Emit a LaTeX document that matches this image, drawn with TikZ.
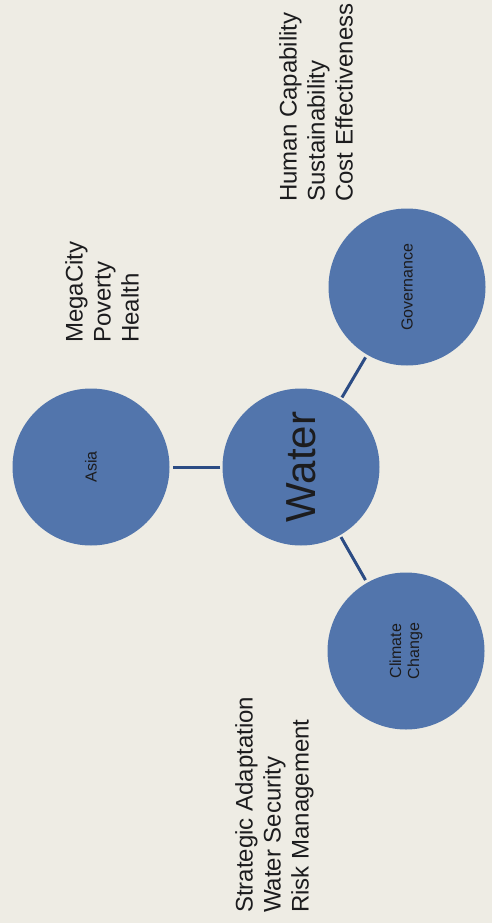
\documentclass[tikz,border=0pt]{standalone}
\usepackage{fontspec}
\setmainfont{Liberation Sans}
\definecolor{paper}{RGB}{238,236,228}
\definecolor{bubble}{RGB}{82,117,172}
\definecolor{link}{RGB}{44,76,132}
\definecolor{ink}{RGB}{28,28,30}
\tikzset{
  bubble/.style={circle,fill=bubble,minimum size=157pt,inner sep=0pt,rotate=90,
    text=ink,align=center,font=\fontsize{16}{18}\selectfont},
  note/.style={rotate=90,anchor=north west,inner sep=0pt,align=left,
    text=ink,font=\fontsize{24}{28}\selectfont},
  link/.style={draw=link,line width=3pt,shorten <=2pt,shorten >=3pt}
}
\begin{document}
\begin{tikzpicture}[x=1pt,y=-1pt]
\fill[paper] (0,0) rectangle (492,923);
\useasboundingbox (0,0) rectangle (492,923);
\node[bubble] (water) at (301,467) {\fontsize{42}{46}\selectfont Water};
\node[bubble] (asia) at (91,467) {Asia};
\node[bubble] (gov) at (407,287) {Governance};
\node[bubble] (climate) at (406,651) {Climate\\Change};
\foreach \n in {asia,gov,climate} {
	\draw[link] (water) -- (\n);
}
\node[note] (asianotes) at (65,343) {MegaCity\\Poverty\\Health};
\node[note] (govnotes) at (279,202) {Human Capability\\Sustainability\\Cost Effectiveness};
\node[note] (climnotes) at (235,913) {Strategic Adaptation\\Water Security\\Risk Management};
\end{tikzpicture}
\end{document}
